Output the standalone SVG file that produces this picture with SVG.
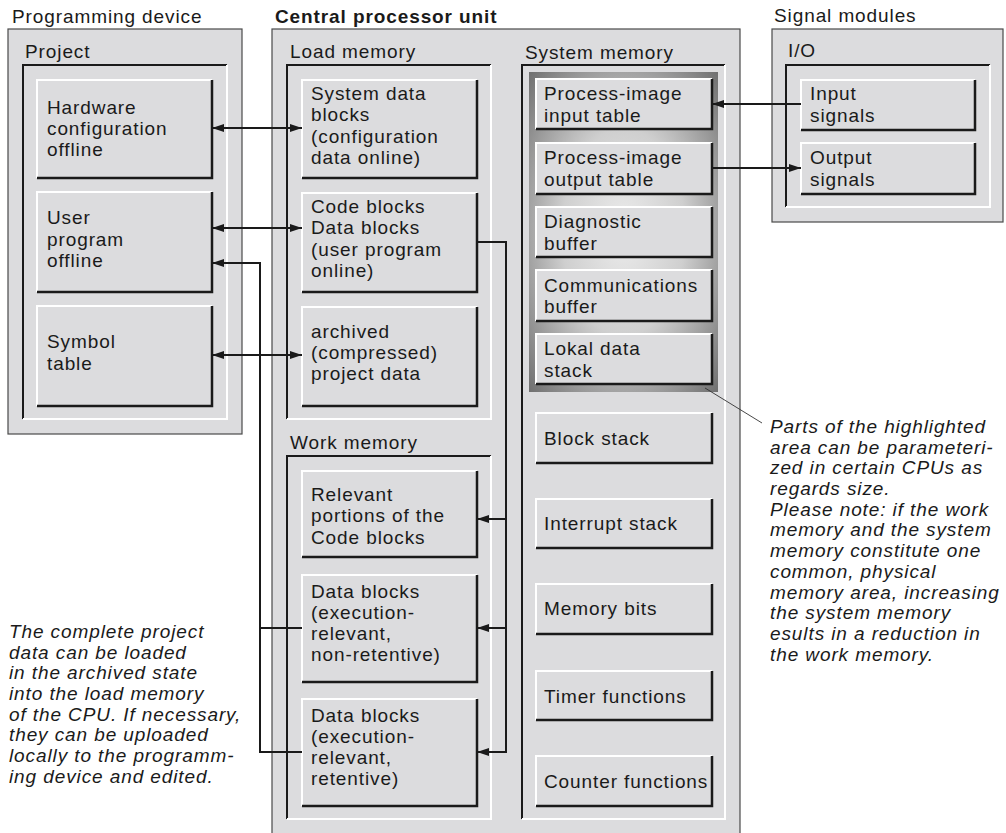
<svg xmlns="http://www.w3.org/2000/svg" width="1006" height="833" viewBox="0 0 1006 833">
<defs>
<style>
text{font-family:"Liberation Sans",Arial,Helvetica,sans-serif;font-size:19px;letter-spacing:0.9px;fill:#1a1a1a}
.b{font-weight:bold}
.i{font-style:italic}
.outer{fill:#dcdcde;stroke:#4a4a4a;stroke-width:1.2}
.box{fill:#dcdcde}
.hl{fill:none;stroke:#ffffff;stroke-width:2}
.sh{fill:none;stroke:#1a1a1a;stroke-width:2.5}
.fd{fill:none;stroke:#1a1a1a;stroke-width:2}
.fw{fill:none;stroke:#ffffff;stroke-width:2}
.con{fill:none;stroke:#1a1a1a;stroke-width:2}
.call{fill:none;stroke:#333;stroke-width:0.9}
</style>
<marker id="ah" viewBox="0 0 12 8" refX="12" refY="4" markerWidth="12" markerHeight="8" markerUnits="userSpaceOnUse" orient="auto-start-reverse">
<path d="M0,0 L12,4 L0,8 z" fill="#1a1a1a"/>
</marker>
<radialGradient id="hg" cx="0.5" cy="0.5" r="0.72">
<stop offset="0" stop-color="#ececec"/>
<stop offset="0.45" stop-color="#cfcfcf"/>
<stop offset="1" stop-color="#6c6c6c"/>
</radialGradient>
</defs>
<rect width="1006" height="833" fill="#ffffff"/>

<!-- Programming device -->
<g id="programming-device">
<text x="12" y="23">Programming device</text>
<rect class="outer" x="8" y="29" width="234" height="405"/>
<text x="25" y="58">Project</text>
<path class="fd" d="M23,419 V65 H227"/>
<path class="fw" d="M227,65 V419 H23"/>
</g>
<g id="hw-config">
<rect class="box" x="37" y="80" width="175" height="98"/>
<path class="hl" d="M37,178 V80 H212"/><path class="sh" d="M212,80 V178 H37"/>
<text><tspan x="47" y="114">Hardware</tspan><tspan x="47" y="135">configuration</tspan><tspan x="47" y="156">offline</tspan></text>
</g>
<g id="user-program-offline">
<rect class="box" x="37" y="192" width="175" height="100"/>
<path class="hl" d="M37,292 V192 H212"/><path class="sh" d="M212,192 V292 H37"/>
<text><tspan x="47" y="224">User</tspan><tspan x="47" y="246">program</tspan><tspan x="47" y="267">offline</tspan></text>
</g>
<g id="symbol-table">
<rect class="box" x="37" y="306" width="175" height="100"/>
<path class="hl" d="M37,406 V306 H212"/><path class="sh" d="M212,306 V406 H37"/>
<text><tspan x="47" y="348">Symbol</tspan><tspan x="47" y="370">table</tspan></text>
</g>

<!-- CPU -->
<g id="cpu">
<text class="b" x="275" y="23">Central processor unit</text>
<rect class="outer" x="272" y="29" width="468" height="830"/>
<text x="290" y="58">Load memory</text>
<path class="fd" d="M287,419 V65 H491"/>
<path class="fw" d="M491,65 V419 H287"/>
<text x="290" y="449">Work memory</text>
<path class="fd" d="M287,819 V456 H491"/>
<path class="fw" d="M491,456 V819 H287"/>
<text x="525" y="59">System memory</text>
<path class="fd" d="M522,819 V65 H725"/>
<path class="fw" d="M725,65 V819 H522"/>
<rect x="529" y="72" width="189" height="320" fill="url(#hg)"/>
</g>
<g id="system-data-blocks">
<rect class="box" x="302" y="80" width="175" height="98"/>
<path class="hl" d="M302,178 V80 H477"/><path class="sh" d="M477,80 V178 H302"/>
<text><tspan x="311" y="100">System data</tspan><tspan x="311" y="121">blocks</tspan><tspan x="311" y="143">(configuration</tspan><tspan x="311" y="164">data online)</tspan></text>
</g>
<g id="code-blocks">
<rect class="box" x="302" y="193" width="175" height="99"/>
<path class="hl" d="M302,292 V193 H477"/><path class="sh" d="M477,193 V292 H302"/>
<text><tspan x="311" y="213">Code blocks</tspan><tspan x="311" y="234">Data blocks</tspan><tspan x="311" y="256">(user program</tspan><tspan x="311" y="277">online)</tspan></text>
</g>
<g id="archived-project-data">
<rect class="box" x="302" y="307" width="175" height="99"/>
<path class="hl" d="M302,406 V307 H477"/><path class="sh" d="M477,307 V406 H302"/>
<text><tspan x="311" y="338">archived</tspan><tspan x="311" y="359">(compressed)</tspan><tspan x="311" y="380">project data</tspan></text>
</g>
<g id="relevant-code-blocks">
<rect class="box" x="302" y="471" width="175" height="86"/>
<path class="hl" d="M302,557 V471 H477"/><path class="sh" d="M477,471 V557 H302"/>
<text><tspan x="311" y="501">Relevant</tspan><tspan x="311" y="522">portions of the</tspan><tspan x="311" y="544">Code blocks</tspan></text>
</g>
<g id="data-blocks-non-retentive">
<rect class="box" x="302" y="575" width="175" height="107"/>
<path class="hl" d="M302,682 V575 H477"/><path class="sh" d="M477,575 V682 H302"/>
<text><tspan x="311" y="598">Data blocks</tspan><tspan x="311" y="619">(execution-</tspan><tspan x="311" y="640">relevant,</tspan><tspan x="311" y="661">non-retentive)</tspan></text>
</g>
<g id="data-blocks-retentive">
<rect class="box" x="302" y="699" width="175" height="107"/>
<path class="hl" d="M302,806 V699 H477"/><path class="sh" d="M477,699 V806 H302"/>
<text><tspan x="311" y="722">Data blocks</tspan><tspan x="311" y="743">(execution-</tspan><tspan x="311" y="764">relevant,</tspan><tspan x="311" y="785">retentive)</tspan></text>
</g>
<g id="pii-table">
<rect class="box" x="536" y="79" width="176" height="50"/>
<path class="hl" d="M536,129 V79 H712"/><path class="sh" d="M712,79 V129 H536"/>
<text><tspan x="544" y="100">Process-image</tspan><tspan x="544" y="122">input table</tspan></text>
</g>
<g id="piq-table">
<rect class="box" x="536" y="143" width="176" height="51"/>
<path class="hl" d="M536,194 V143 H712"/><path class="sh" d="M712,143 V194 H536"/>
<text><tspan x="544" y="164">Process-image</tspan><tspan x="544" y="186">output table</tspan></text>
</g>
<g id="diagnostic-buffer">
<rect class="box" x="536" y="207" width="176" height="50"/>
<path class="hl" d="M536,257 V207 H712"/><path class="sh" d="M712,207 V257 H536"/>
<text><tspan x="544" y="228">Diagnostic</tspan><tspan x="544" y="250">buffer</tspan></text>
</g>
<g id="communications-buffer">
<rect class="box" x="536" y="270" width="176" height="51"/>
<path class="hl" d="M536,321 V270 H712"/><path class="sh" d="M712,270 V321 H536"/>
<text><tspan x="544" y="292">Communications</tspan><tspan x="544" y="313">buffer</tspan></text>
</g>
<g id="lokal-data-stack">
<rect class="box" x="536" y="334" width="176" height="50"/>
<path class="hl" d="M536,384 V334 H712"/><path class="sh" d="M712,334 V384 H536"/>
<text><tspan x="544" y="355">Lokal data</tspan><tspan x="544" y="377">stack</tspan></text>
</g>
<g id="block-stack">
<rect class="box" x="536" y="413" width="176" height="50"/>
<path class="hl" d="M536,463 V413 H712"/><path class="sh" d="M712,413 V463 H536"/>
<text x="544" y="445">Block stack</text>
</g>
<g id="interrupt-stack">
<rect class="box" x="536" y="499" width="176" height="49"/>
<path class="hl" d="M536,548 V499 H712"/><path class="sh" d="M712,499 V548 H536"/>
<text x="544" y="530">Interrupt stack</text>
</g>
<g id="memory-bits">
<rect class="box" x="536" y="584" width="176" height="50"/>
<path class="hl" d="M536,634 V584 H712"/><path class="sh" d="M712,584 V634 H536"/>
<text x="544" y="615">Memory bits</text>
</g>
<g id="timer-functions">
<rect class="box" x="536" y="671" width="176" height="49"/>
<path class="hl" d="M536,720 V671 H712"/><path class="sh" d="M712,671 V720 H536"/>
<text x="544" y="703">Timer functions</text>
</g>
<g id="counter-functions">
<rect class="box" x="536" y="756" width="176" height="50"/>
<path class="hl" d="M536,806 V756 H712"/><path class="sh" d="M712,756 V806 H536"/>
<text x="544" y="788">Counter functions</text>
</g>

<!-- Signal modules -->
<g id="signal-modules">
<text x="774" y="22">Signal modules</text>
<rect class="outer" x="772" y="29" width="231" height="193"/>
<text x="788" y="57">I/O</text>
<path class="fd" d="M786,207 V65 H990"/>
<path class="fw" d="M990,65 V207 H786"/>
</g>
<g id="input-signals">
<rect class="box" x="801" y="80" width="174" height="50"/>
<path class="hl" d="M801,130 V80 H975"/><path class="sh" d="M975,80 V130 H801"/>
<text><tspan x="810" y="100">Input</tspan><tspan x="810" y="122">signals</tspan></text>
</g>
<g id="output-signals">
<rect class="box" x="801" y="143" width="174" height="51"/>
<path class="hl" d="M801,194 V143 H975"/><path class="sh" d="M975,143 V194 H801"/>
<text><tspan x="810" y="164">Output</tspan><tspan x="810" y="186">signals</tspan></text>
</g>

<!-- Connectors -->
<g id="connectors">
<path class="con" d="M212,128 H302" marker-start="url(#ah)" marker-end="url(#ah)"/>
<path class="con" d="M212,228 H302" marker-start="url(#ah)" marker-end="url(#ah)"/>
<path class="con" d="M212,355 H302" marker-start="url(#ah)" marker-end="url(#ah)"/>
<path class="con" d="M302,752 H260 V263 H212" marker-end="url(#ah)"/>
<path class="con" d="M302,628 H260"/>
<path class="con" d="M477,242 H506 V752 H477" marker-end="url(#ah)"/>
<path class="con" d="M506,519 H477" marker-end="url(#ah)"/>
<path class="con" d="M506,628 H477" marker-end="url(#ah)"/>
<path class="con" d="M801,104 H712" marker-end="url(#ah)"/>
<path class="con" d="M712,168 H801" marker-end="url(#ah)"/>
<path class="call" d="M705,388 L762,423"/>
</g>

<!-- Notes -->
<g id="note-right">
<text class="i"><tspan x="770" y="433">Parts of the highlighted</tspan><tspan x="770" y="454">area can be parameteri-</tspan><tspan x="770" y="474">zed in certain CPUs as</tspan><tspan x="770" y="495">regards size.</tspan><tspan x="770" y="516">Please note: if the work</tspan><tspan x="770" y="536">memory and the system</tspan><tspan x="770" y="557">memory constitute one</tspan><tspan x="770" y="578">common, physical</tspan><tspan x="770" y="599">memory area, increasing</tspan><tspan x="770" y="619">the system memory</tspan><tspan x="770" y="640">esults in a reduction in</tspan><tspan x="770" y="661">the work memory.</tspan></text>
</g>
<g id="note-left">
<text class="i"><tspan x="9" y="638">The complete project</tspan><tspan x="9" y="659">data can be loaded</tspan><tspan x="9" y="679">in the archived state</tspan><tspan x="9" y="700">into the load memory</tspan><tspan x="9" y="721">of the CPU. If necessary,</tspan><tspan x="9" y="741">they can be uploaded</tspan><tspan x="9" y="762">locally to the programm-</tspan><tspan x="9" y="783">ing device and edited.</tspan></text>
</g>
</svg>
